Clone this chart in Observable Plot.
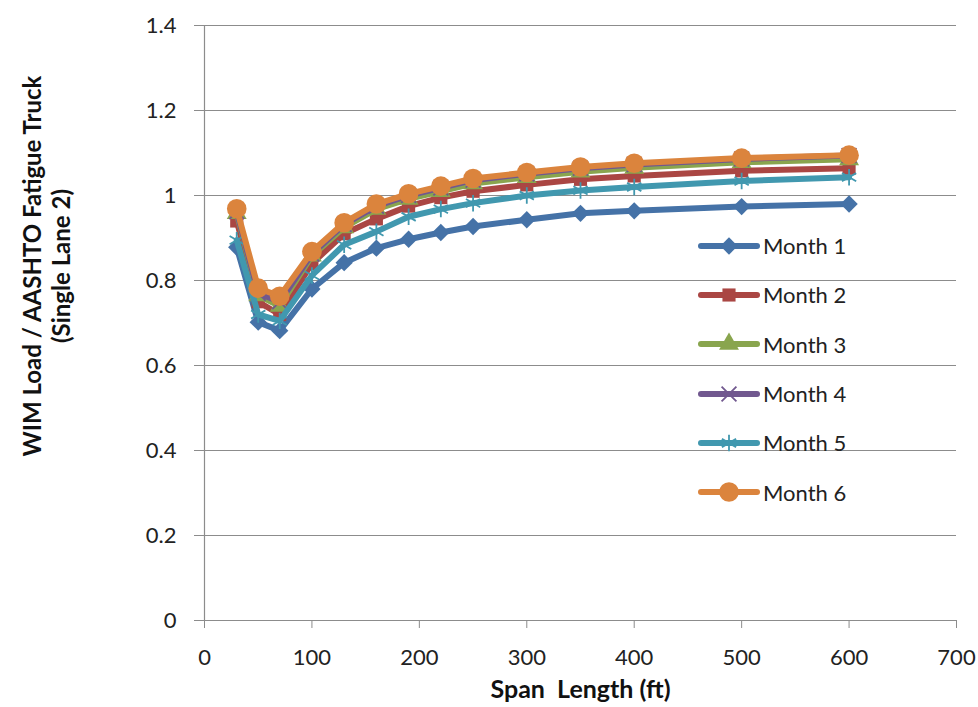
<!DOCTYPE html>
<html><head><meta charset="utf-8">
<script src="https://cdn.jsdelivr.net/npm/d3@7"></script>
<script src="https://cdn.jsdelivr.net/npm/@observablehq/plot@0.6"></script>
<style>
body{margin:0;background:#fff;font-family:Lato,"Open Sans",sans-serif}
#wrap{position:relative;width:978px;height:707px}
#legend{position:absolute;left:698px;top:221px}
.row{display:flex;align-items:center;height:49.3px;font-size:22px;color:#222}
.row svg{margin-right:3px}
</style></head><body><div id="wrap"></div>
<script>
const spanLength = [30, 50, 70, 100, 130, 160, 190, 220, 250, 300, 350, 400, 500, 600];
const month1 = [0.878, 0.702, 0.682, 0.780, 0.842, 0.876, 0.897, 0.913, 0.927, 0.943, 0.958, 0.964, 0.974, 0.980];
const month2 = [0.940, 0.750, 0.720, 0.840, 0.910, 0.945, 0.975, 0.995, 1.010, 1.025, 1.038, 1.046, 1.058, 1.064];
const month3 = [0.958, 0.765, 0.740, 0.858, 0.925, 0.968, 0.992, 1.010, 1.028, 1.043, 1.056, 1.065, 1.078, 1.085];
const month4 = [0.962, 0.770, 0.750, 0.862, 0.932, 0.975, 1.000, 1.018, 1.036, 1.051, 1.064, 1.073, 1.086, 1.094];
const month5 = [0.895, 0.720, 0.705, 0.812, 0.884, 0.915, 0.950, 0.968, 0.982, 1.000, 1.012, 1.020, 1.034, 1.043];
const month6 = [0.969, 0.782, 0.763, 0.868, 0.936, 0.980, 1.004, 1.022, 1.040, 1.054, 1.067, 1.076, 1.088, 1.095];
const seriesNames = ["Month 1", "Month 2", "Month 3", "Month 4", "Month 5", "Month 6"];
const yTicks = [0, 0.2, 0.4, 0.6, 0.8, 1, 1.2, 1.4];
const xTicks = [0, 100, 200, 300, 400, 500, 600, 700];
const xLabel = "Span  Length (ft)";
const yLabel = "WIM Load / AASHTO Fatigue Truck\n(Single Lane 2)";

const seriesValues = [month1, month2, month3, month4, month5, month6];
const colors = ["#4572A7", "#AA4643", "#89A54E", "#71588F", "#4198AF", "#DB843D"];
const symbols = ["diamond2", "square", "triangle", "times", "asterisk", "circle"];
const d3symbols = [d3.symbolDiamond2, d3.symbolSquare, d3.symbolTriangle, d3.symbolTimes, d3.symbolAsterisk, d3.symbolCircle];
const radii = [7.8, 7.4, 7.4, 6.8, 7.8, 9.8];
const filled = [true, true, true, false, false, true];
const grid = "#8c8c8c";

const marks = [
  Plot.ruleY(yTicks, {stroke: grid, strokeWidth: 1.2}),
  Plot.ruleX([0], {stroke: grid, strokeWidth: 1.2}),
  Plot.axisY({ticks: yTicks, tickFormat: d => String(d), tickSize: 10, tickPadding: 18, stroke: grid, fill: "#222", fontSize: 22, label: null}),
  Plot.axisX({ticks: xTicks, tickFormat: d => String(d), tickSize: 8, tickPadding: 21, stroke: grid, fill: "#222", fontSize: 22, label: null}),
  Plot.text([xLabel], {text: d => d, frameAnchor: "bottom", dy: 77, fontWeight: "bold", fontSize: 25, fill: "#111"}),
  Plot.text([yLabel], {text: d => d, frameAnchor: "left", textAnchor: "middle", lineAnchor: "middle", rotate: -90, dx: -158, dy: -57, fontWeight: "bold", fontSize: 24, lineHeight: 1.2, fill: "#111"})
];
seriesValues.forEach((vals, i) => {
  const rows = spanLength.map((x, j) => ({x, y: vals[j]}));
  marks.push(Plot.line(rows, {x: "x", y: "y", stroke: colors[i], strokeWidth: 6, strokeLinejoin: "round", strokeLinecap: "round"}));
  marks.push(Plot.dot(rows, filled[i]
    ? {x: "x", y: "y", symbol: () => symbols[i], r: radii[i], fill: colors[i], stroke: "none"}
    : {x: "x", y: "y", symbol: () => symbols[i], r: radii[i], fill: "none", stroke: colors[i], strokeWidth: 1.8}));
});

const chart = Plot.plot({
  width: 978, height: 707,
  marginLeft: 204, marginRight: 22, marginTop: 25, marginBottom: 87,
  style: {fontFamily: "Lato, 'Open Sans', sans-serif", fontSize: "21px", background: "white", overflow: "visible"},
  x: {domain: [0, 700], axis: null},
  y: {domain: [0, 1.4], axis: null},
  symbol: {type: "identity"},
  marks
});
const wrap = document.getElementById("wrap");
wrap.appendChild(chart);

const legend = d3.select(wrap).append("div").attr("id", "legend");
seriesNames.forEach((name, i) => {
  const row = legend.append("div").attr("class", "row");
  const svg = row.append("svg").attr("width", 62).attr("height", 26);
  svg.append("line").attr("x1", 3).attr("x2", 59).attr("y1", 13).attr("y2", 13)
    .attr("stroke", colors[i]).attr("stroke-width", 6).attr("stroke-linecap", "round");
  svg.append("path").attr("transform", "translate(31,13)")
    .attr("d", d3.symbol(d3symbols[i], Math.PI * radii[i] * radii[i])())
    .attr("fill", filled[i] ? colors[i] : "none")
    .attr("stroke", filled[i] ? "none" : colors[i])
    .attr("stroke-width", 1.8);
  row.append("span").text(name);
});
</script></body></html>
